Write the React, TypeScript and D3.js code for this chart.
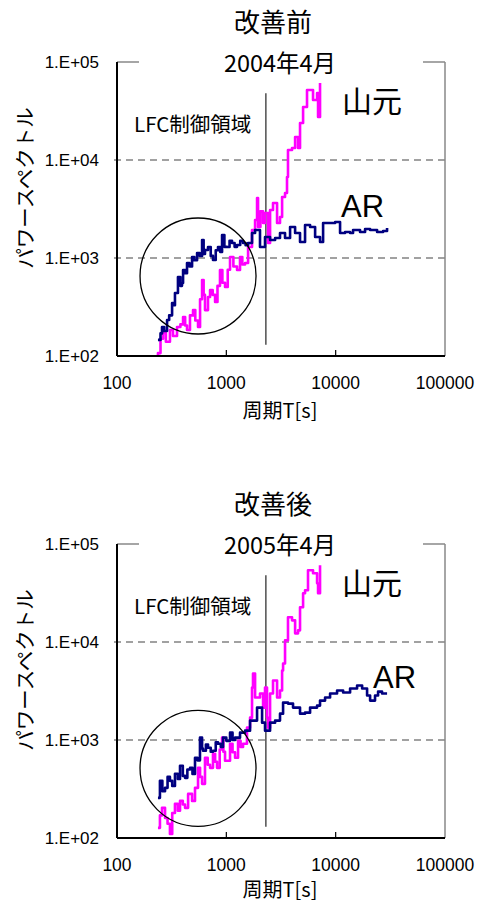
import React from 'react';
import * as d3 from 'd3';

// period T [s], power spectrum
const yamaTop: [number, number][] = [
  [232, 102], [237, 107], [250, 150], [264, 172], [280, 140], [305, 184], [325, 160], [354, 198],
  [380, 210], [402, 250], [420, 205], [437, 184], [465, 260], [496, 294], [520, 230], [551, 198],
  [575, 380], [600, 597], [620, 420], [638, 294], [680, 400], [710, 471], [750, 420], [789, 356],
  [830, 520], [875, 755], [920, 560], [973, 506], [1030, 760], [1081, 1024], [1160, 820],
  [1253, 755], [1334, 1024], [1400, 860], [1483, 889], [1581, 1294], [1718, 1931], [1832, 2443],
  [1910, 4093], [1950, 2071], [2050, 3000], [2168, 2276], [2259, 2877], [2410, 1422], [2512, 3090],
  [2673, 3640], [2911, 2276], [3097, 2618], [3236, 4188], [3443, 4603], [3589, 6714], [3664, 12650],
  [3990, 13250], [4256, 17180], [4529, 13250], [4721, 23880], [5035, 34750], [5470, 51760],
  [6081, 51760], [6209, 40930], [6761, 48310], [6902, 27480], [7194, 61090],
];

const arTop: [number, number][] = [
  [237, 146], [250, 170], [258, 198], [270, 180], [287, 233], [300, 260], [319, 347], [330, 330],
  [339, 439], [361, 640], [380, 520], [393, 556], [402, 755], [420, 700], [437, 889], [460, 820],
  [486, 1024], [510, 950], [540, 1125], [570, 1050], [600, 1526], [620, 1100], [638, 1207],
  [680, 1294], [720, 1050], [755, 955], [800, 1200], [839, 1294], [880, 1150], [914, 1717],
  [960, 1300], [1014, 1294], [1070, 1500], [1127, 1422], [1190, 1300], [1253, 1357], [1340, 1500],
  [1422, 1422], [1500, 1350], [1581, 1422], [1718, 1799], [1832, 1931], [2032, 1294], [2259, 1637],
  [2512, 1526], [2793, 1600], [3097, 1799], [3443, 1600], [3828, 2071], [4256, 1799], [4721, 1455],
  [5248, 2173], [5834, 2071], [6486, 1637], [7194, 1455], [7674, 2276], [8890, 2276], [9890, 2329],
  [10970, 1799], [12190, 1841], [13550, 1799], [14420, 1931], [16710, 1841], [18580, 1977],
  [20650, 1931], [23930, 1841], [27160, 1887], [29520, 2024],
];

const yamaBottom: [number, number][] = [
  [237, 127], [247, 170], [258, 203], [275, 160], [290, 140], [305, 110], [320, 180], [339, 223],
  [360, 190], [377, 239], [400, 220], [419, 203], [447, 282], [486, 239], [517, 325], [551, 520],
  [575, 420], [600, 357], [638, 659], [675, 560], [710, 520], [755, 724], [790, 600], [822, 520],
  [870, 800], [914, 1057], [940, 760], [973, 614], [1081, 916], [1140, 750], [1202, 659],
  [1280, 984], [1350, 850], [1422, 916], [1545, 1337], [1648, 1691], [1718, 3428], [1754, 4772],
  [1832, 2710], [2032, 2977], [2168, 2141], [2259, 3428], [2355, 1691], [2410, 1337], [2512, 2977],
  [2673, 4045], [2911, 2710], [3097, 3196], [3236, 5117], [3304, 6039], [3443, 10380],
  [3664, 17860], [3990, 16630], [4256, 12250], [4529, 13150], [4721, 22590], [5035, 31410],
  [5248, 33730], [5585, 54050], [6209, 50360], [6761, 39810], [6902, 31410], [7194, 60810],
];

const arBottom: [number, number][] = [
  [237, 257], [247, 383], [260, 300], [275, 325], [290, 420], [305, 383], [320, 340], [339, 452],
  [360, 400], [377, 546], [400, 430], [419, 411], [440, 500], [466, 520], [490, 450], [517, 659],
  [545, 620], [574, 1057], [600, 820], [612, 777], [650, 900], [680, 834], [720, 760], [755, 777],
  [800, 950], [839, 916], [890, 850], [933, 1057], [1000, 980], [1081, 1189], [1140, 1000],
  [1202, 1057], [1334, 1189], [1483, 1245], [1648, 1577], [1754, 1577], [1910, 2141], [2123, 1503],
  [2259, 1245], [2512, 1503], [2793, 1577], [3097, 1858], [3304, 2409], [3664, 2353], [4074, 2141],
  [4721, 1858], [5248, 1902], [5834, 2141], [6761, 2244], [7194, 2523], [8000, 2710], [8890, 2977],
  [10300, 3196], [11700, 3050], [13550, 3350], [15700, 3597], [17460, 3350], [19380, 2850],
  [20650, 2523], [22910, 2850], [24430, 3119], [26550, 2977], [29520, 2977],
];

const xTicks = [100, 1000, 10000, 100000];
const yTicks = [100, 1000, 10000, 100000];
const yTickLabels = ['1.E+02', '1.E+03', '1.E+04', '1.E+05'];
const lfcBoundary = 2300;
const lfcLineRange = [130, 48000];

const latin = '"Liberation Sans", Arial, "Noto Sans CJK JP", sans-serif';
const cjk = '"Noto Sans CJK JP", "Liberation Sans", sans-serif';

type PanelProps = {
  top: number;
  title: string;
  subtitle: string;
  yama: [number, number][];
  ar: [number, number][];
  circle: [number, number];
  arLabelY: number;
  arLabelX: number;
};

function Panel({ top, title, subtitle, yama, ar, circle, arLabelY, arLabelX }: PanelProps) {
  const left = 117, right = 445;
  const plotTop = top + 62, plotBottom = top + 356;
  const x = d3.scaleLog().domain([100, 100000]).range([left, right]);
  const y = d3.scaleLog().domain([100, 100000]).range([plotBottom, plotTop]);
  const line = d3.line<[number, number]>()
    .x(d => x(d[0]))
    .y(d => y(d[1]))
    .curve(d3.curveStepAfter);

  return (
    <g>
      <text x={273} y={top + 32} textAnchor="middle" fontSize={26} fontFamily={cjk}>{title}</text>
      {/* gridlines */}
      {[1000, 10000].map(v => (
        <line key={v} x1={left - 3} x2={right} y1={y(v)} y2={y(v)}
          stroke="#444" strokeWidth={1.2} strokeDasharray="7,5" />
      ))}
      {/* frame */}
      <line x1={left} x2={139} y1={plotTop} y2={plotTop} stroke="#888" strokeWidth={1.5} />
      <line x1={423} x2={right} y1={plotTop} y2={plotTop} stroke="#888" strokeWidth={1.5} />
      <line x1={right} x2={right} y1={plotTop} y2={plotBottom} stroke="#888" strokeWidth={1.5} />
      <text x={280} y={top + 72} textAnchor="middle" fontSize={23.5} fontFamily={cjk}>{subtitle}</text>

      {/* LFC boundary */}
      <line x1={x(lfcBoundary)} x2={x(lfcBoundary)} y1={y(lfcLineRange[1])} y2={y(lfcLineRange[0])}
        stroke="#333" strokeWidth={1.3} />

      <path d={line(yama) || ''} fill="none" stroke="#ff00ff" strokeWidth={2.6} strokeLinejoin="round" />
      <path d={line(ar) || ''} fill="none" stroke="#000080" strokeWidth={2.6} strokeLinejoin="round" />

      <circle cx={x(circle[0])} cy={y(circle[1])} r={58} fill="none" stroke="#000" strokeWidth={1.3} />

      {/* axes */}
      <line x1={left} x2={left} y1={plotTop} y2={plotBottom} stroke="#000" strokeWidth={2} />
      <line x1={left} x2={right} y1={plotBottom} y2={plotBottom} stroke="#000" strokeWidth={2} />
      {xTicks.slice(1, 3).map(t => (
        <line key={t} x1={x(t)} x2={x(t)} y1={plotBottom} y2={plotBottom - 6} stroke="#000" strokeWidth={1.2} />
      ))}
      {xTicks.map(t => (
        <text key={t} x={x(t)} y={plotBottom + 33} textAnchor="middle" fontSize={17.5} fontFamily={latin}>{t}</text>
      ))}
      {yTicks.map((t, i) => (
        <text key={t} x={99} y={y(t) + 6} textAnchor="end" fontSize={17} fontFamily={latin}>{yTickLabels[i]}</text>
      ))}

      <text x={280} y={Math.min(plotBottom + 62, 897)} textAnchor="middle" fontSize={20} fontFamily={cjk}>周期T[s]</text>
      <text transform={`translate(33, ${top + 188}) rotate(-90)`} textAnchor="middle" fontSize={20.5} fontFamily={cjk}>
        パワースペクトル
      </text>

      <text x={134} y={top + 132} fontSize={20.5} fontFamily={cjk}>LFC制御領域</text>
      <text x={342} y={top + 112} fontSize={30} fontFamily={cjk}>山元</text>
      <text x={arLabelX} y={arLabelY} fontSize={31} fontFamily={latin}>AR</text>
    </g>
  );
}

export default function App() {
  return (
    <svg width={483} height={905} style={{ position: 'absolute', left: 0, top: 0, background: '#fff' }}>
      <rect width={483} height={905} fill="#fff" />
      <Panel top={0} title="改善前" subtitle="2004年4月" yama={yamaTop} ar={arTop}
        circle={[551, 655]} arLabelX={341} arLabelY={217} />
      <Panel top={482} title="改善後" subtitle="2005年4月" yama={yamaBottom} ar={arBottom}
        circle={[551, 514]} arLabelX={373} arLabelY={688} />
    </svg>
  );
}
